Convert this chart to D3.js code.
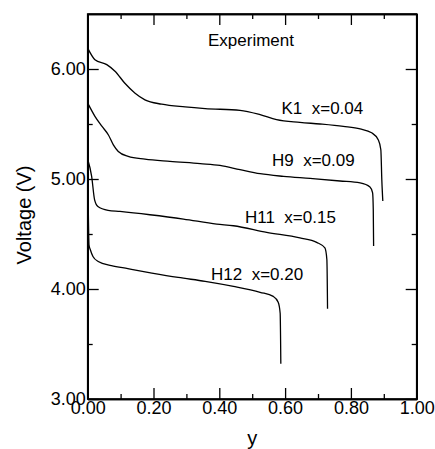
<!DOCTYPE html>
<html>
<head>
<meta charset="utf-8">
<script src="https://cdn.jsdelivr.net/npm/d3@7"></script>
<style>
  html, body { margin: 0; padding: 0; background: #fff; }
  svg { display: block; font-family: "Liberation Sans", Arial, sans-serif; }
</style>
</head>
<body>
<svg id="chart" width="435" height="449"></svg>
<script>
// Discharge curves: voltage versus y for four compositions
const seriesNames = ["K1  x=0.04", "H9  x=0.09", "H11  x=0.15", "H12  x=0.20"];

const k1Y = [0.000, 0.022, 0.058, 0.083, 0.113, 0.144, 0.174, 0.225, 0.296, 0.357, 0.463, 0.524, 0.574, 0.645, 0.706, 0.777, 0.828, 0.863, 0.883, 0.891, 0.894, 0.897];
const k1V = [6.19, 6.085, 6.04, 5.98, 5.87, 5.78, 5.72, 5.68, 5.655, 5.64, 5.624, 5.585, 5.54, 5.515, 5.50, 5.478, 5.455, 5.42, 5.357, 5.266, 4.99, 4.80];

const h9Y = [0.000, 0.022, 0.043, 0.063, 0.078, 0.093, 0.123, 0.174, 0.250, 0.342, 0.402, 0.463, 0.524, 0.595, 0.676, 0.767, 0.828, 0.858, 0.866, 0.868, 0.869];
const h9V = [5.69, 5.57, 5.48, 5.40, 5.31, 5.25, 5.205, 5.180, 5.160, 5.140, 5.124, 5.085, 5.048, 5.024, 5.005, 4.982, 4.964, 4.927, 4.873, 4.72, 4.39];

const h11Y = [0.000, 0.012, 0.021, 0.031, 0.062, 0.098, 0.189, 0.291, 0.392, 0.443, 0.544, 0.645, 0.696, 0.721, 0.727, 0.729];
const h11V = [5.18, 5.024, 4.81, 4.75, 4.715, 4.705, 4.675, 4.636, 4.59, 4.575, 4.515, 4.464, 4.424, 4.373, 4.266, 3.82];

const h12Y = [0.002, 0.004, 0.008, 0.016, 0.032, 0.072, 0.122, 0.195, 0.275, 0.357, 0.443, 0.524, 0.564, 0.579, 0.585, 0.587];
const h12V = [4.68, 4.40, 4.357, 4.296, 4.25, 4.213, 4.185, 4.145, 4.105, 4.07, 4.024, 3.97, 3.933, 3.88, 3.78, 3.32];

const xMajorTicks = [0.0, 0.2, 0.4, 0.6, 0.8, 1.0];
const xMinorTicks = [0.1, 0.3, 0.5, 0.7, 0.9];
const yMajorTicks = [3.0, 4.0, 5.0, 6.0];
const yMinorTicks = [3.5, 4.5, 5.5];

const seriesY = [k1Y, h9Y, h11Y, h12Y];
const seriesV = [k1V, h9V, h11V, h12V];

const svg = d3.select("#chart");
const margin = { left: 87.7, right: 18.3, top: 14, bottom: 50 };
const W = 435, H = 449;

const x = d3.scaleLinear().domain([0, 1]).range([margin.left, W - margin.right]);
const y = d3.scaleLinear().domain([3, 6.5]).range([H - margin.bottom, margin.top]);

const fmt = d3.format(".2f");
const major = 11, minor = 5;

// Axes: ticks point inward on all four sides
svg.append("g").attr("transform", `translate(0,${y(3)})`)
  .call(d3.axisBottom(x).tickValues(xMajorTicks).tickFormat(fmt).tickSizeInner(-major).tickSizeOuter(0).tickPadding(2));
svg.append("g").attr("transform", `translate(0,${y(3)})`)
  .call(d3.axisBottom(x).tickValues(xMinorTicks).tickFormat("").tickSizeInner(-minor).tickSizeOuter(0));
svg.append("g").attr("transform", `translate(0,${y(6.5)})`)
  .call(d3.axisTop(x).tickValues(xMajorTicks).tickFormat("").tickSizeInner(-major).tickSizeOuter(0));
svg.append("g").attr("transform", `translate(0,${y(6.5)})`)
  .call(d3.axisTop(x).tickValues(xMinorTicks).tickFormat("").tickSizeInner(-minor).tickSizeOuter(0));

svg.append("g").attr("transform", `translate(${x(0)},0)`)
  .call(d3.axisLeft(y).tickValues(yMajorTicks).tickFormat(fmt).tickSizeInner(-major).tickSizeOuter(0).tickPadding(2));
svg.append("g").attr("transform", `translate(${x(0)},0)`)
  .call(d3.axisLeft(y).tickValues(yMinorTicks).tickFormat("").tickSizeInner(-minor).tickSizeOuter(0));
svg.append("g").attr("transform", `translate(${x(1)},0)`)
  .call(d3.axisRight(y).tickValues(yMajorTicks).tickFormat("").tickSizeInner(-major).tickSizeOuter(0));
svg.append("g").attr("transform", `translate(${x(1)},0)`)
  .call(d3.axisRight(y).tickValues(yMinorTicks).tickFormat("").tickSizeInner(-minor).tickSizeOuter(0));

svg.selectAll(".domain").attr("stroke", "#000").attr("stroke-width", 1.6);
svg.selectAll(".tick line").attr("stroke", "#000").attr("stroke-width", 1.3);
svg.selectAll(".tick text").attr("fill", "#000").style("font-size", "18px");

// Frame
svg.append("rect")
  .attr("x", x(0)).attr("y", y(6.5))
  .attr("width", x(1) - x(0)).attr("height", y(3) - y(6.5))
  .attr("fill", "none").attr("stroke", "#000").attr("stroke-width", 1.6);

// Curves
const line = d3.line()
  .x(d => x(d[0])).y(d => y(d[1]))
  .curve(d3.curveMonotoneX);

seriesY.forEach((ys, i) => {
  const pts = ys.map((v, j) => [v, seriesV[i][j]]);
  svg.append("path").datum(pts)
    .attr("d", line)
    .attr("fill", "none").attr("stroke", "#000").attr("stroke-width", 1.3);
});

// Curve labels
const labelPos = [[281.5, 114], [272, 166], [245, 223], [211, 280]];
seriesNames.forEach((name, i) => {
  svg.append("text")
    .attr("x", labelPos[i][0]).attr("y", labelPos[i][1])
    .style("font-size", "17px").style("white-space", "pre")
    .attr("xml:space", "preserve")
    .text(name);
});

svg.append("text").attr("x", 208).attr("y", 46)
  .style("font-size", "17px").text("Experiment");

// Axis titles
svg.append("text").attr("x", x(0.5)).attr("y", 445)
  .attr("text-anchor", "middle").style("font-size", "20px").text("y");
svg.append("text")
  .attr("transform", "translate(31,215) rotate(-90)")
  .attr("text-anchor", "middle").style("font-size", "20px").text("Voltage (V)");
</script>
</body>
</html>
